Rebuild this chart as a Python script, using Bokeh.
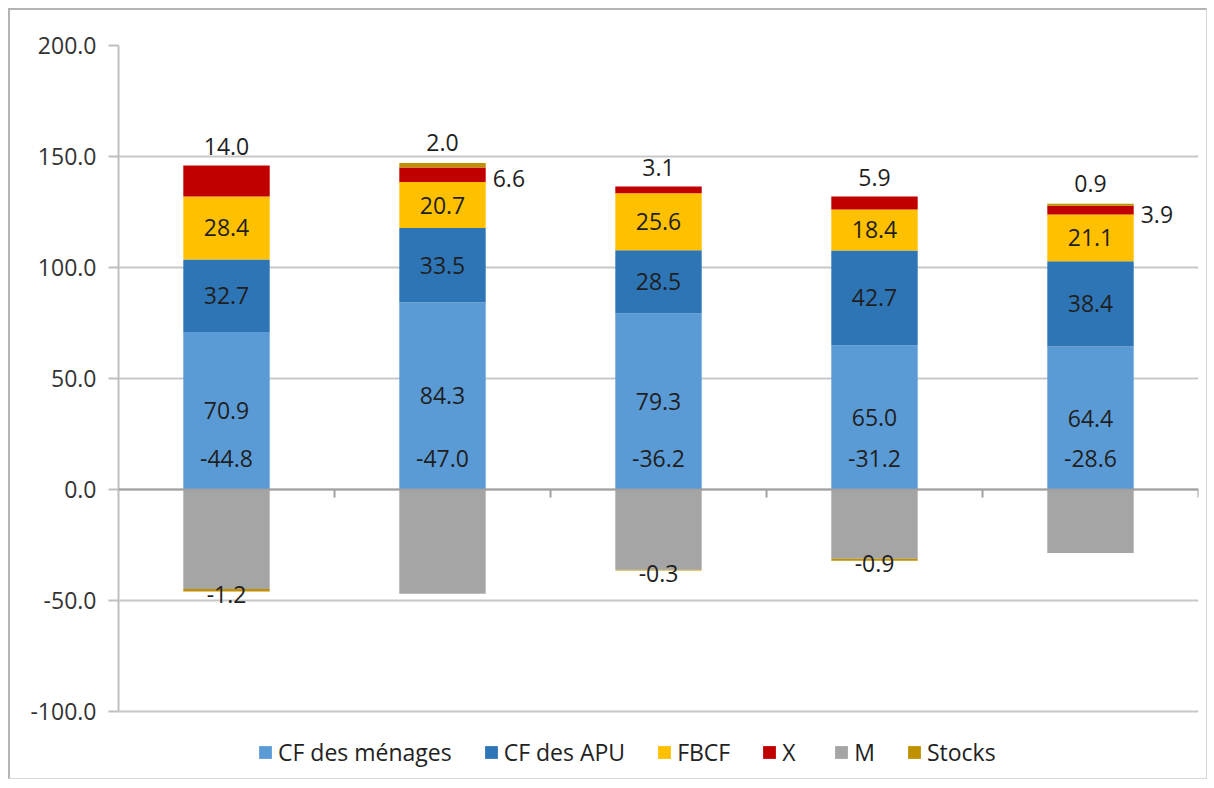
import numpy as np
from bokeh.plotting import figure
from bokeh.models import (ColumnDataSource, FixedTicker, NumeralTickFormatter,
                          Legend, LegendItem, Range1d, Span)
from bokeh.core.properties import value
from bokeh.embed import file_html
from bokeh.resources import INLINE

# ---------------- data ----------------
categories = [1, 2, 3, 4, 5]
cf_menages = [70.9, 84.3, 79.3, 65.0, 64.4]
cf_apu = [32.7, 33.5, 28.5, 42.7, 38.4]
fbcf = [28.4, 20.7, 25.6, 18.4, 21.1]
x_exports = [14.0, 6.6, 3.1, 5.9, 3.9]
m_imports = [-44.8, -47.0, -36.2, -31.2, -28.6]
stocks = [-1.2, 2.0, -0.3, -0.9, 0.9]
series_names = ["CF des ménages", "CF des APU", "FBCF", "X", "M", "Stocks"]
y_ticks = [-100, -50, 0, 50, 100, 150, 200]

# ---------------- style ----------------
colors = ["#5B9BD5", "#2E75B6", "#FFC000", "#C00000", "#A5A5A5", "#BF9000"]
FONT = "Open Sans"
FS = "23px"
TXT = "#1F1F1F"
BAR_W = 0.4
TICK_LEN = 3.6      # length of category tick marks below zero line (data units)
AXIS_PX = 666       # pixel height of the -100..200 axis span
FRAME_H = 733       # frame height incl. legend room below -100
FRAME_W = 1080

y_lo, y_hi = min(y_ticks), max(y_ticks)
y_start = y_hi - (y_hi - y_lo) * FRAME_H / AXIS_PX

cat = np.array(categories, dtype=float)
a = np.array(cf_menages); b = np.array(cf_apu); c = np.array(fbcf)
xx = np.array(x_exports); mm = np.array(m_imports); ss = np.array(stocks)

t0 = a
t1 = t0 + b
t2 = t1 + c
t3 = t2 + xx
st_bottom = np.where(ss > 0, t3, mm + ss)
st_top = np.where(ss > 0, t3 + ss, mm)

p = figure(frame_width=FRAME_W, frame_height=FRAME_H, output_backend="svg",
           toolbar_location=None,
           x_range=Range1d(0.5, 5.5), y_range=Range1d(y_start, y_hi),
           x_axis_location=None,
           min_border_left=108, min_border_right=8, min_border_top=35,
           min_border_bottom=0)
p.outline_line_color = None
p.background_fill_color = "white"
p.border_fill_color = "white"
p.styles = {"margin": "8px 0 0 8px",
            "border-left": "2px solid #B4B4B4",
            "border-top": "2px solid #B4B4B4",
            "border-right": "1px solid #D8D8D8",
            "border-bottom": "1px solid #D8D8D8"}

# ---------------- grid ----------------
p.xgrid.grid_line_color = None
p.ygrid.ticker = FixedTicker(ticks=y_ticks)
p.ygrid.grid_line_color = "#C8C8C8"
p.ygrid.grid_line_width = 2

bars = [
    (np.zeros(5), t0),
    (t0, t1),
    (t1, t2),
    (t2, t3),
    (mm, np.zeros(5)),
    (st_bottom, st_top),
]
renderers = []
for (bot, top), col in zip(bars, colors):
    r = p.vbar(x=cat, width=BAR_W, bottom=bot, top=top, fill_color=col,
               line_color=None)
    renderers.append(r)

# zero line (category axis) with tick marks at category boundaries
p.add_layout(Span(location=0, dimension="width", line_color="#A0A0A0",
                  line_width=2))
bounds = cat + 0.5
p.segment(x0=bounds, y0=np.zeros(5), x1=bounds, y1=np.full(5, -TICK_LEN),
          line_color="#A0A0A0", line_width=2)

# ---------------- labels ----------------
def add_labels(xs, ys, vals, align="center", baseline="middle", xo=0, yo=0):
    src = ColumnDataSource(dict(x=list(xs), y=list(ys),
                                t=[f"{v:.1f}" for v in vals]))
    p.text(x="x", y="y", text="t", source=src, text_align=align,
           text_baseline=baseline, x_offset=xo, y_offset=yo,
           text_font=value(FONT), text_font_size=FS, text_color=TXT)

# segment centres
add_labels(cat, t0 / 2, a)
add_labels(cat, (t0 + t1) / 2, b)
add_labels(cat, (t1 + t2) / 2, c)
# M labels (placed just above the zero line as in the original)
add_labels(cat, np.zeros(5), mm, yo=-31)
# X labels: above bar unless stocks positive (then to the right)
pos_s = ss > 0
add_labels(cat[~pos_s], t3[~pos_s], xx[~pos_s], baseline="bottom", yo=-10)
add_labels(cat[pos_s] + BAR_W / 2, ((t2 + t3) / 2)[pos_s], xx[pos_s],
           align="left", xo=7, yo=4)
# Stocks labels
add_labels(cat[pos_s], st_top[pos_s], ss[pos_s], baseline="bottom", yo=-12)
add_labels(cat[~pos_s], st_bottom[~pos_s], ss[~pos_s], yo=3)

# ---------------- axes ----------------
p.yaxis.ticker = FixedTicker(ticks=y_ticks)
p.yaxis.bounds = (y_lo, y_hi)
p.yaxis.formatter = NumeralTickFormatter(format="0.0")
p.yaxis.major_label_text_font = FONT
p.yaxis.major_label_text_font_size = FS
p.yaxis.major_label_text_color = "#333333"
p.yaxis.major_label_standoff = 12
p.yaxis.axis_line_color = "#BFBFBF"
p.yaxis.axis_line_width = 2
p.yaxis.major_tick_line_color = "#BFBFBF"
p.yaxis.major_tick_line_width = 2
p.yaxis.major_tick_out = 10
p.yaxis.major_tick_in = 0
p.yaxis.minor_tick_line_color = None

# ---------------- legend ----------------
legend = Legend(items=[LegendItem(label=n, renderers=[r])
                       for n, r in zip(series_names, renderers)],
                orientation="horizontal", location=(139, 10),
                border_line_color=None, background_fill_alpha=0,
                glyph_width=16, glyph_height=16, label_standoff=5,
                spacing=31, padding=0, margin=0,
                label_text_font=FONT, label_text_font_size="23px",
                label_text_color="#222222")
p.add_layout(legend)

open("out.html", "w").write(file_html(p, INLINE))
